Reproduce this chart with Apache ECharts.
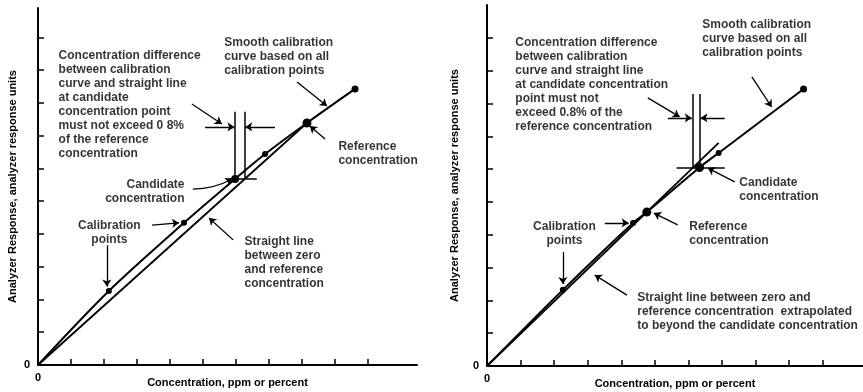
<!DOCTYPE html>
<html>
<head>
<meta charset="utf-8">
<script src="https://cdn.jsdelivr.net/npm/echarts@6/dist/echarts.min.js"></script>
<style>
  html, body { margin: 0; padding: 0; background: #fff; }
  #chart { width: 863px; height: 392px; }
</style>
</head>
<body>
<div id="chart"></div>
<script>
// calibration points [concentration, response] (axis units = tick steps)
const leftCurve = [[0, 0], [2.15, 2.26], [4.43, 4.34], [5.98, 5.68], [6.89, 6.44], [8.16, 7.39], [9.62, 8.43]]
const leftStraight = [[0, 0], [8.16, 7.39]]
const rightCurve = [[0, 0], [2.26, 2.32], [4.35, 4.36], [4.76, 4.69], [6.33, 6.05], [6.9, 6.49], [9.43, 8.44]]
const rightStraight = [[0, 0], [6.9, 6.8]]

const tickValues = [1, 2, 3, 4, 5, 6, 7, 8, 9, 10]

// construction lines at the candidate concentration (no arrow heads)
const leftGuides = [
  [[5.98, 5.68], [5.98, 7.73]],
  [[6.27, 5.68], [6.27, 7.73]],
  [[5.75, 5.68], [6.64, 5.68]],
]
const rightGuides = [
  [[6.12, 6.05], [6.12, 8.29]],
  [[6.34, 6.05], [6.34, 8.29]],
  [[5.65, 6.05], [7.08, 6.05]],
]

// annotation arrows, [from, to]
const leftArrows = [
  [[5.07, 7.27], [5.96, 7.27]],
  [[7.19, 7.27], [6.29, 7.27]],
  [[7.86, 8.64], [8.77, 7.91]],
  [[4.67, 7.97], [5.58, 7.36]],
  [[8.71, 6.9], [8.25, 7.3]],
  [[4.7, 5.37], [5.9, 5.68]],
  [[3.46, 4.27], [4.28, 4.34]],
  [[2.09, 3.66], [2.09, 2.4]],
  [[5.92, 3.82], [5.19, 4.49]],
]
const rightArrows = [
  [[5.39, 7.56], [6.1, 7.56]],
  [[7.08, 7.56], [6.36, 7.56]],
  [[7.89, 8.81], [8.48, 7.89]],
  [[4.79, 8.17], [5.74, 7.59]],
  [[7.38, 5.61], [6.58, 6.03]],
  [[5.68, 4.3], [4.97, 4.66]],
  [[3.51, 4.36], [4.22, 4.36]],
  [[2.26, 3.47], [2.26, 2.5]],
  [[4.17, 2.16], [3.21, 2.77]],
]

const leftNotes = [
  { at: [5.67, 10.05], text: 'Smooth calibration\ncurve based on all\ncalibration points' },
  { at: [0.64, 9.65], text: 'Concentration difference\nbetween calibration\ncurve and straight line\nat candidate\nconcentration point\nmust not exceed 0 8%\nof the reference\nconcentration' },
  { at: [9.13, 6.87], text: 'Reference\nconcentration' },
  { at: [4.46, 5.71], text: 'Candidate\nconcentration' },
  { at: [2.18, 4.46], text: 'Calibration\npoints' },
  { at: [6.28, 3.97], text: 'Straight line\nbetween zero\nand reference\nconcentration' },
]
const rightNotes = [
  { at: [6.43, 10.6], text: 'Smooth calibration\ncurve based on all\ncalibration points' },
  { at: [0.86, 10.05], text: 'Concentration difference\nbetween calibration\ncurve and straight line\nat candidate concentration\npoint must not\nexceed 0.8% of the\nreference concentration' },
  { at: [7.53, 5.79], text: 'Candidate\nconcentration' },
  { at: [6.04, 4.45], text: 'Reference\nconcentration' },
  { at: [2.32, 4.45], text: 'Calibration\npoints' },
  { at: [4.49, 2.29], text: 'Straight line between zero and\nreference concentration  extrapolated\nto beyond the candidate concentration' },
]

const xName = 'Concentration, ppm or percent'
const yName = 'Analyzer Response, analyzer response units'

const font = 'Liberation Sans, Arial, sans-serif'
const leftAlign = ['left', 'left', 'left', 'right', 'center', 'left']
const rightAlign = ['left', 'left', 'left', 'left', 'center', 'left']
const leftSizes = [0, 6, 6, 8, 6, 9, 7]
const rightSizes = [0, 6, 6, 9, 9, 6, 7]

function xAxis(grid, max) {
  return {
    type: 'value', gridIndex: grid, min: 0, max: max, interval: 1,
    name: xName, nameLocation: 'middle', nameGap: 12, nameMoveOverlap: false,
    nameTextStyle: { color: '#000', fontSize: 11, fontWeight: 'bold', fontFamily: font },
    axisLine: { lineStyle: { color: '#000', width: 2 } },
    axisTick: { inside: true, length: 6, customValues: tickValues, lineStyle: { color: '#000', width: 1.5 } },
    axisLabel: { customValues: [0], color: '#000', fontSize: 11, fontWeight: 'bold', fontFamily: font, margin: 7 },
    splitLine: { show: false },
  }
}

function yAxis(grid, max, gap) {
  return {
    type: 'value', gridIndex: grid, min: 0, max: max, interval: 1,
    name: yName, nameLocation: 'middle', nameGap: gap, nameMoveOverlap: false,
    nameTextStyle: { color: '#000', fontSize: 11, fontWeight: 'bold', fontFamily: font },
    axisLine: { lineStyle: { color: '#000', width: 2 } },
    axisTick: { inside: true, length: 6, customValues: tickValues, lineStyle: { color: '#000', width: 1.5 } },
    axisLabel: { customValues: [0], color: '#000', fontSize: 11, fontWeight: 'bold', fontFamily: font, margin: 8 },
    splitLine: { show: false },
  }
}

function panel(i, curve, straight, sizes, guides, arrows, notes, aligns, curvedArrow) {
  return [
    {
      type: 'line', xAxisIndex: i, yAxisIndex: i, data: straight,
      symbol: 'none', lineStyle: { color: '#000', width: 1.8 }, z: 2,
    },
    {
      type: 'line', xAxisIndex: i, yAxisIndex: i, data: curve, smooth: 0.3,
      symbol: 'circle', symbolSize: (v, p) => sizes[p.dataIndex],
      itemStyle: { color: '#000' }, lineStyle: { color: '#000', width: 2 }, z: 3,
    },
    {
      type: 'lines', coordinateSystem: 'cartesian2d', xAxisIndex: i, yAxisIndex: i,
      data: guides.map(c => ({ coords: c })), symbol: 'none',
      lineStyle: { color: '#000', width: 1.5, opacity: 1 },
    },
    {
      type: 'lines', coordinateSystem: 'cartesian2d', xAxisIndex: i, yAxisIndex: i,
      data: arrows.map((c, k) => ({ coords: c, lineStyle: { curveness: k === curvedArrow ? -0.12 : 0 } })),
      symbol: ['none', 'arrow'], symbolSize: 7,
      lineStyle: { color: '#000', width: 1.3, opacity: 1 },
    },
    {
      type: 'scatter', xAxisIndex: i, yAxisIndex: i, symbolSize: 1, silent: true,
      itemStyle: { color: 'rgba(0,0,0,0)' },
      data: notes.map((n, k) => ({
        value: n.at,
        label: {
          show: true, formatter: n.text, position: [0, 0], align: aligns[k], verticalAlign: 'top',
          color: '#000', fontSize: 12, fontWeight: 'bold', fontFamily: font, lineHeight: 14,
        },
      })),
    },
  ]
}

const chart = echarts.init(document.getElementById('chart'))
chart.setOption({
  animation: false,
  backgroundColor: '#fff',
  grid: [
    { left: 38, top: 8, width: 379, height: 357, outerBoundsMode: 'none', containLabel: false },
    { left: 487, top: 5, width: 376, height: 361, outerBoundsMode: 'none', containLabel: false },
  ],
  xAxis: [xAxis(0, 11.5), xAxis(1, 11.2)],
  yAxis: [yAxis(0, 10.9, 20), yAxis(1, 11, 27)],
  series: [
    ...panel(0, leftCurve, leftStraight, leftSizes, leftGuides, leftArrows, leftNotes, leftAlign, 5),
    ...panel(1, rightCurve, rightStraight, rightSizes, rightGuides, rightArrows, rightNotes, rightAlign, -1),
  ],
})
</script>
</body>
</html>
